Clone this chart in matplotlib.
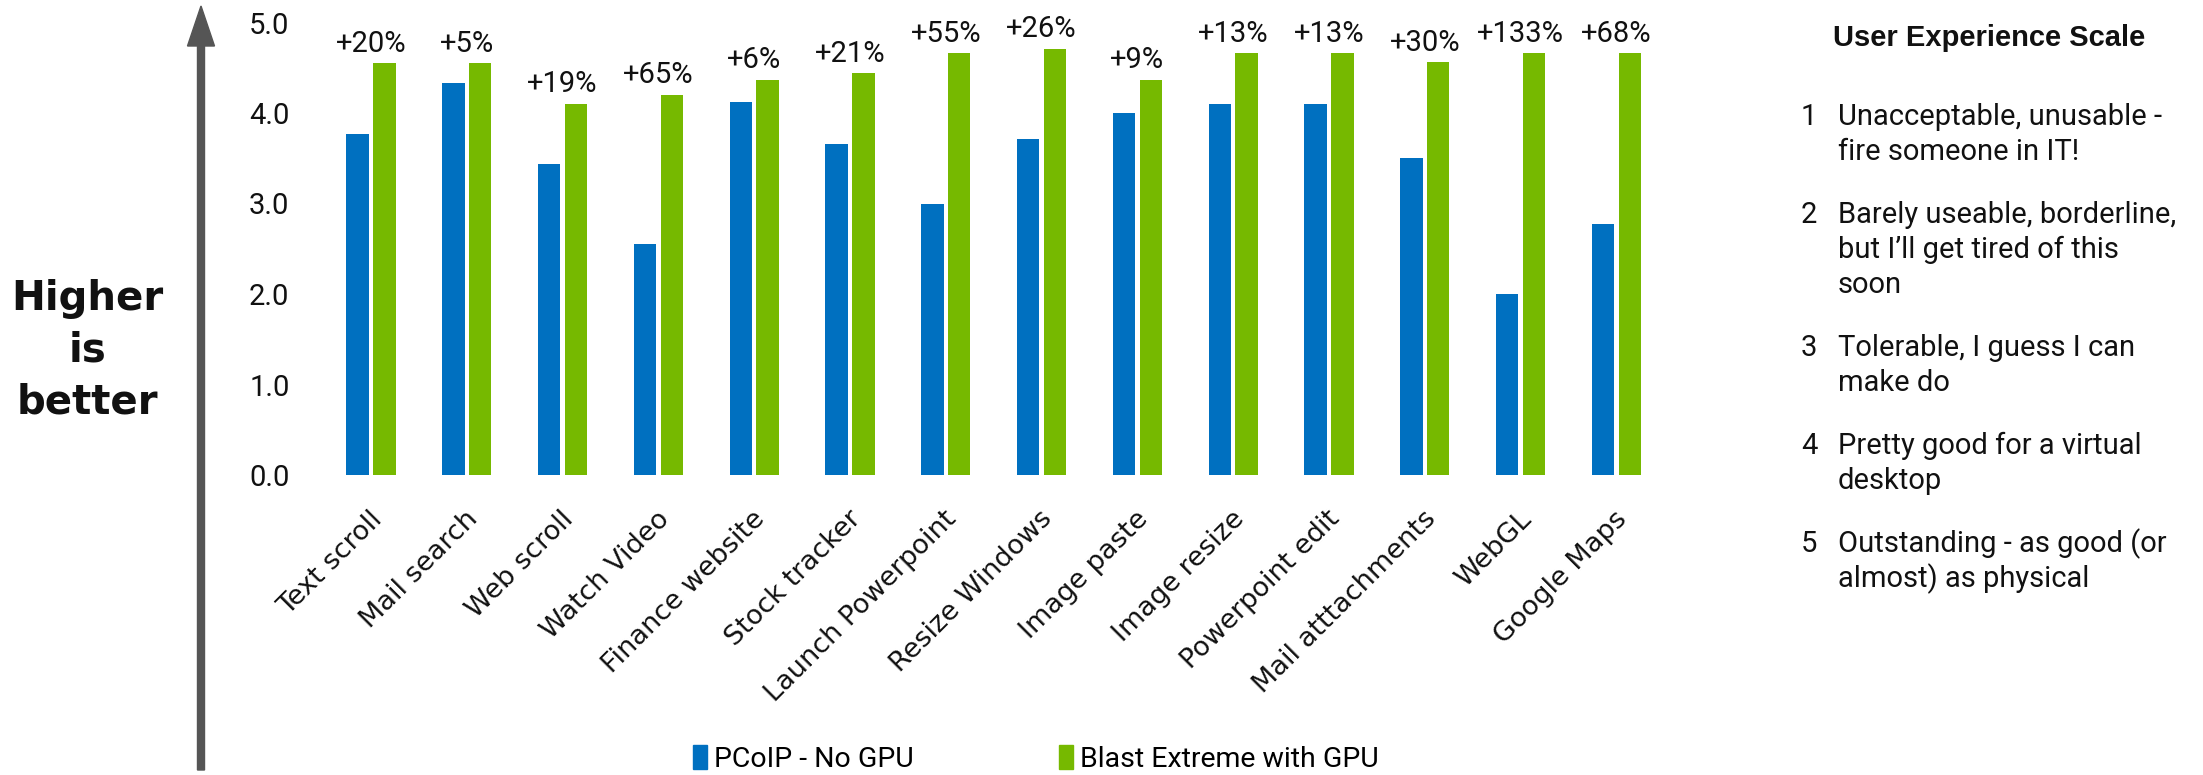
import matplotlib
matplotlib.use("Agg")
import matplotlib.pyplot as plt
import numpy as np
from matplotlib import font_manager as fm
from matplotlib.patches import FancyArrow, Patch
from matplotlib.transforms import IdentityTransform, ScaledTranslation

# ---------------- data ----------------
categories = ["Text scroll", "Mail search", "Web scroll", "Watch Video",
              "Finance website", "Stock tracker", "Launch Powerpoint",
              "Resize Windows", "Image paste", "Image resize",
              "Powerpoint edit", "Mail atttachments", "WebGL", "Google Maps"]
pcoip = [3.77, 4.33, 3.44, 2.55, 4.12, 3.66, 2.99, 3.71, 4.00, 4.10, 4.10, 3.50, 2.00, 2.77]
blast = [4.55, 4.55, 4.10, 4.20, 4.37, 4.44, 4.66, 4.71, 4.37, 4.66, 4.66, 4.56, 4.66, 4.66]
gains = ["+20%", "+5%", "+19%", "+65%", "+6%", "+21%", "+55%", "+26%",
         "+9%", "+13%", "+13%", "+30%", "+133%", "+68%"]
yticks = [0, 1, 2, 3, 4, 5]
ytick_labels = ["0.0", "1.0", "2.0", "3.0", "4.0", "5.0"]
series_names = ["PCoIP - No GPU", "Blast Extreme with GPU"]
side_label = "Higher\nis\nbetter"
scale_title = "User Experience Scale"
scale_numbers = ["1", "2", "3", "4", "5"]
scale_items = [
    ["Unacceptable, unusable -", "fire someone in IT!"],
    ["Barely useable, borderline,", "but I\u2019ll get tired of this", "soon"],
    ["Tolerable, I guess I can", "make do"],
    ["Pretty good for a virtual", "desktop"],
    ["Outstanding - as good (or", "almost) as physical"],
]

# ---------------- style ----------------
BLUE = "#0070C0"
GREEN = "#76B900"
ARROW = "#555555"
TXT = "#111111"

W, H, DPI = 2203, 775, 100
names = {f.name for f in fm.fontManager.ttflist}


def pick(cands, default="DejaVu Sans"):
    for c in cands:
        if c in names:
            return c
    return default


BODY = pick(["Roboto", "Liberation Sans", "Lato"])
ARIAL = pick(["Liberation Sans", "Arimo", "DejaVu Sans"])
BODY_SIZE = 21


def fx(px):
    return px / W


def fy(py):
    return 1 - py / H


fig = plt.figure(figsize=(W / DPI, H / DPI), dpi=DPI)
fig.patch.set_facecolor("white")

ax_left, ax_right, ax_top, ax_bot = 320, 1670, 22.5, 475
x0_px, step_px = 371, 95.8
ax = fig.add_axes([fx(ax_left), fy(ax_bot), (ax_right - ax_left) / W, (ax_bot - ax_top) / H])

x = np.arange(len(categories))
bw = 0.235
off = 0.14
bars_p = ax.bar(x - off, pcoip, width=bw, color=BLUE, label=series_names[0])
bars_b = ax.bar(x + off, blast, width=bw, color=GREEN, label=series_names[1])

ax.set_xlim((ax_left - x0_px) / step_px, (ax_right - x0_px) / step_px)
ax.set_ylim(0, 5)
for s in ax.spines.values():
    s.set_visible(False)

ax.set_yticks(yticks, ytick_labels, fontfamily=BODY, fontsize=BODY_SIZE, color=TXT)
ax.tick_params(axis="y", length=0, pad=22)

ax.set_xticks(x, categories, rotation=45, ha="right", va="center",
              rotation_mode="anchor", fontsize=19.5,
              fontfamily="DejaVu Sans", color=TXT)
ax.tick_params(axis="x", length=0, pad=29)
shift = ScaledTranslation(0.07, 0, fig.dpi_scale_trans)
for lab in ax.get_xticklabels():
    lab.set_transform(lab.get_transform() + shift)

for xi, top, g in zip(x, blast, gains):
    ax.annotate(g, (xi, top), xytext=(0, 4), textcoords="offset points",
                ha="center", va="bottom", fontfamily=BODY, fontsize=BODY_SIZE, color=TXT)

# vertical arrow
arrow = FancyArrow(201, H - 770, 0, 764, width=7, head_width=27, head_length=40,
                   length_includes_head=True, color=ARROW, transform=IdentityTransform())
fig.add_artist(arrow)

fig.text(fx(87), fy(351), side_label, ha="center", va="center", ma="center",
         fontsize=29, fontweight="bold", fontfamily="DejaVu Sans", color=TXT,
         linespacing=1.38)

# legend: one entry per series, placed where the reference shows them
legend_left_px = [693, 1059]
for handle_color, name, lx in zip([BLUE, GREEN], series_names, legend_left_px):
    leg = fig.legend([Patch(color=handle_color)], [name], loc="center left",
                     bbox_to_anchor=(fx(lx), fy(759)), frameon=False,
                     borderpad=0, borderaxespad=0, handlelength=0.5,
                     handleheight=0.9, handletextpad=0.25,
                     prop={"family": BODY, "size": 20.5})

# user experience scale panel
fig.text(fx(1833), fy(38), scale_title, ha="left", va="center",
         fontfamily=ARIAL, fontweight="bold", fontsize=21, color=TXT)
line_h = 35
y = 115
for num, item in zip(scale_numbers, scale_items):
    fig.text(fx(1801), fy(y + 10), num, ha="left", va="baseline",
             fontfamily=BODY, fontsize=BODY_SIZE, color=TXT)
    for j, line in enumerate(item):
        fig.text(fx(1838), fy(y + j * line_h + 10), line, ha="left", va="baseline",
                 fontfamily=BODY, fontsize=BODY_SIZE, color=TXT)
    y += len(item) * line_h + 28

fig.savefig("out.png", dpi=DPI, facecolor="white")
